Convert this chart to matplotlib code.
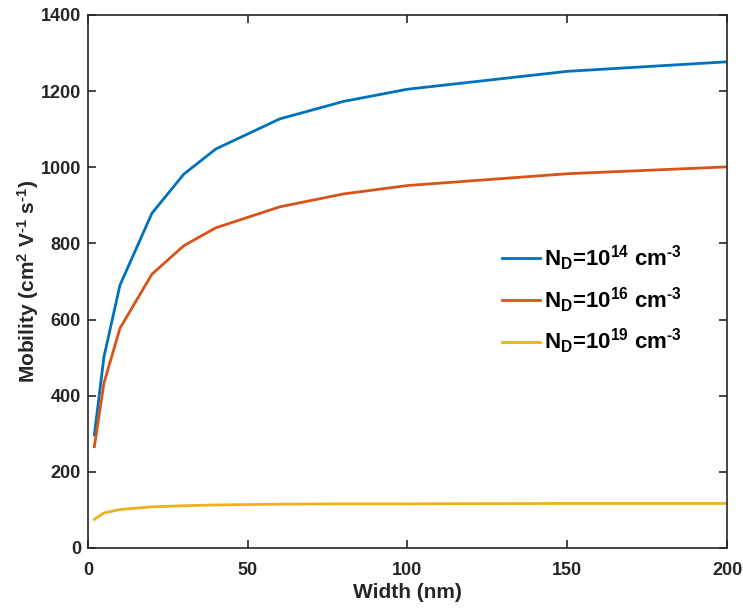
import matplotlib
matplotlib.use("Agg")
import matplotlib.pyplot as plt

plt.rcParams['font.family'] = ['Liberation Sans', 'DejaVu Sans']
plt.rcParams['font.weight'] = 'bold'
plt.rcParams['mathtext.fontset'] = 'custom'
plt.rcParams['mathtext.rm'] = 'Liberation Sans:bold'
plt.rcParams['mathtext.bf'] = 'Liberation Sans:bold'
plt.rcParams['mathtext.it'] = 'Liberation Sans:bold'

AX_COLOR = "#262626"

# Width (nm) and mobility for three doping levels
width = [2, 5, 10, 20, 30, 40, 60, 80, 100, 150, 200]
mob_1e14 = [297, 502, 690, 879, 982, 1048, 1127, 1173, 1205, 1252, 1277]
mob_1e16 = [266, 433, 577, 719, 794, 841, 896, 930, 952, 983, 1001]
mob_1e19 = [75, 92, 101, 108, 111, 113, 115, 116, 116, 117, 117]

labels = [r'$\mathrm{N_D}$=10$^{\mathrm{14}}$ cm$^{\text{-3}}$',
          r'$\mathrm{N_D}$=10$^{\mathrm{16}}$ cm$^{\text{-3}}$',
          r'$\mathrm{N_D}$=10$^{\mathrm{19}}$ cm$^{\text{-3}}$']
colors = ["#0072BD", "#D95319", "#EDB120"]

fig = plt.figure(figsize=(7.43, 6.09), dpi=100)
ax = fig.add_axes([0.1184, 0.1002, 0.8601, 0.8752])

for ys, lab, col in zip([mob_1e14, mob_1e16, mob_1e19], labels, colors):
    ax.plot(width, ys, color=col, linewidth=2.0, label=lab)

ax.set_xlim(0, 200)
ax.set_ylim(0, 1400)
ax.set_xticks([0, 50, 100, 150, 200])
ax.set_yticks(range(0, 1401, 200))
ax.tick_params(direction='in', top=True, right=True, length=6, width=1.2,
               color=AX_COLOR, labelcolor=AX_COLOR, labelsize=13)
ax.tick_params(axis='x', pad=10)
ax.tick_params(axis='y', pad=5)
for lbl in ax.get_xticklabels() + ax.get_yticklabels():
    lbl.set_fontweight('bold')
for sp in ax.spines.values():
    sp.set_color(AX_COLOR)
    sp.set_linewidth(1.2)

ax.set_xlabel("Width (nm)", fontsize=15, fontweight='bold', color=AX_COLOR,
              labelpad=3)
ax.set_ylabel(r'Mobility (cm$^{\mathrm{2}}$ V$^{\text{-1}}$ s$^{\text{-1}}$)',
              fontsize=15, fontweight='bold', color=AX_COLOR, labelpad=0)

leg = ax.legend(loc='upper left', bbox_to_anchor=(0.634, 0.588), frameon=False,
                fontsize=16, handlelength=1.7, handletextpad=0.2, labelspacing=0.55,
                borderaxespad=0)
for t in leg.get_texts():
    t.set_color("black")

fig.savefig("out.png", dpi=100, facecolor='white')
